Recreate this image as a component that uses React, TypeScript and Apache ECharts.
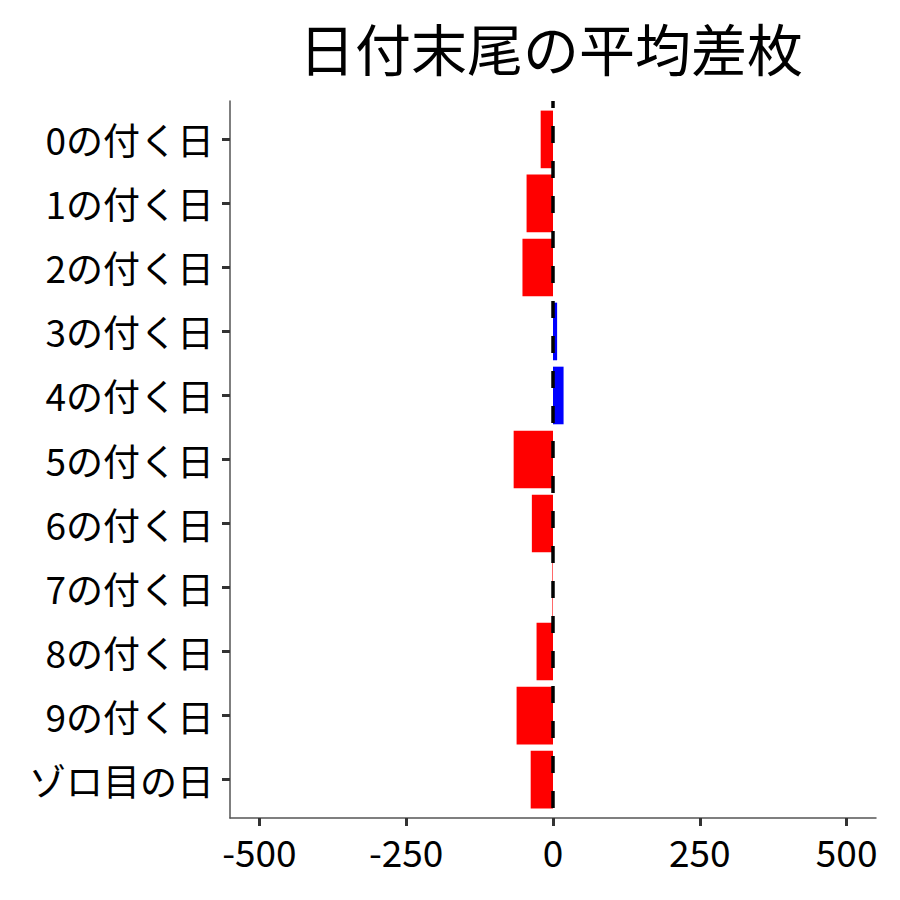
import React, { useEffect, useRef } from "react";
import * as echarts from "echarts";

const categories = [
  "0の付く日",
  "1の付く日",
  "2の付く日",
  "3の付く日",
  "4の付く日",
  "5の付く日",
  "6の付く日",
  "7の付く日",
  "8の付く日",
  "9の付く日",
  "ゾロ目の日",
];
const values = [-21, -45, -52, 7, 18, -67, -36, -1, -28, -62, -38];
const xTicks = [-500, -250, 0, 250, 500];
const titleText = "日付末尾の平均差枚";

const FONT = "'Noto Sans CJK JP', 'Noto Sans', sans-serif";

export default function App() {
  const ref = useRef<HTMLDivElement>(null);
  useEffect(() => {
    document.body.style.margin = "0";
    if (!ref.current) return;
    const chart = echarts.init(ref.current, null, { renderer: "svg" });
    const idx = categories.map((_, i) => i);
    const left = 230;
    const right = 24;
    chart.setOption({
      animation: false,
      backgroundColor: "#ffffff",
      textStyle: { fontFamily: FONT },
      graphic: [
        {
          type: "text",
          x: 551,
          y: 46,
          style: {
            text: titleText,
            fontFamily: FONT,
            fontSize: 56,
            fill: "#000",
            textAlign: "center",
            textVerticalAlign: "middle",
          },
        },
      ],
      grid: { left, right, top: 101, bottom: 82, containLabel: false },
      xAxis: {
        type: "value",
        min: -550,
        max: 550,
        splitLine: { show: false },
        axisLine: { show: true, onZero: false, lineStyle: { color: "#555", width: 1.5 } },
        axisTick: { show: true, customValues: xTicks, length: 8, lineStyle: { color: "#333", width: 3 } },
        axisLabel: {
          customValues: xTicks,
          fontFamily: FONT,
          fontSize: 37,
          color: "#000",
          margin: 14,
          showMinLabel: true,
          showMaxLabel: true,
        },
      },
      yAxis: {
        type: "value",
        min: -0.6,
        max: 10.6,
        inverse: true,
        splitLine: { show: false },
        axisLine: { show: true, onZero: false, lineStyle: { color: "#555", width: 1.5 } },
        axisTick: { show: true, customValues: idx, length: 8, lineStyle: { color: "#333", width: 3 } },
        axisLabel: {
          customValues: idx,
          fontFamily: FONT,
          fontSize: 37,
          color: "#000",
          margin: 16,
          formatter: (v: number) => categories[Math.round(v)] ?? "",
        },
      },
      series: [
        {
          type: "custom",
          encode: { x: 0, y: 1 },
          data: values.map((v, i) => [v, i]),
          renderItem: (params: any, api: any) => {
            const v = api.value(0);
            const i = api.value(1);
            const p0 = api.coord([0, i]);
            const p1 = api.coord([v, i]);
            const h = Math.abs(api.size([0, 0.9])[1]);
            return {
              type: "rect",
              shape: {
                x: Math.min(p0[0], p1[0]),
                y: p0[1] - h / 2,
                width: Math.abs(p1[0] - p0[0]),
                height: h,
              },
              style: { fill: v >= 0 ? "#0000FF" : "#FF0000" },
            };
          },
          z: 2,
        },
        {
          type: "line",
          data: [
            [0, -0.6],
            [0, 10.6],
          ],
          symbol: "none",
          lineStyle: { color: "#000", width: 3.5, type: [17, 18], dashOffset: 10 },
          z: 5,
        },
      ],
    });
    return () => chart.dispose();
  }, []);
  return <div ref={ref} style={{ width: 900, height: 900 }} />;
}
